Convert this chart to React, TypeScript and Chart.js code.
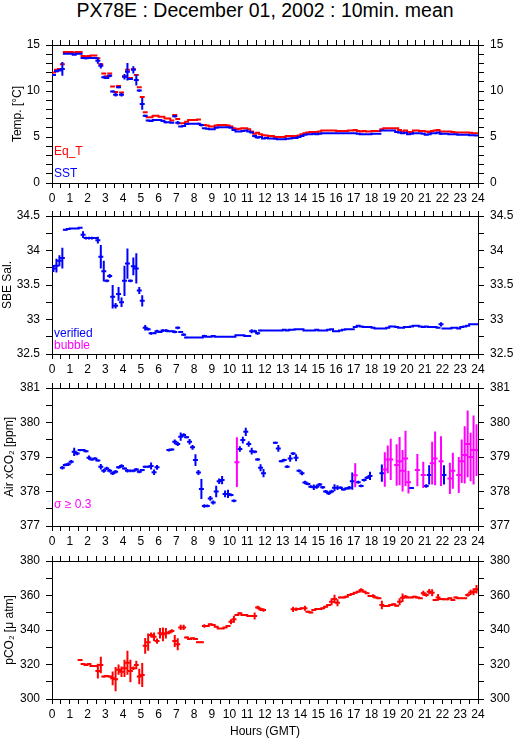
import React, { useEffect, useRef } from "react";
import { Chart, registerables } from "chart.js";

Chart.register(...registerables);

const FONT = "'Liberation Sans', Arial, Helvetica, sans-serif";
const RED = "#ff0000";
const BLUE = "#0000ff";
const MAGENTA = "#ff00ff";
const BLACK = "#000000";

const TITLE = "PX78E : December 01, 2002 : 10min. mean";
const X_TITLE = "Hours (GMT)";
const BIN_MINUTES = 10;
const HOUR_MIN = 0;
const HOUR_MAX = 24;
const HOUR_TICK_STEP = 0.5;
const SIGMA_FLAG = 0.3;

// ---------- Panel 1 : temperatures (10-min bins, one row per hour) ----------
const EQ_T = [
  12.0, 12.3, 12.4, 12.9, 14.25, 14.25,
  14.25, 14.15, 14.25, 14.25, 13.8, 13.75,
  13.8, 13.85, 13.85, 13.55, 12.9, 11.9,
  11.6, 11.9, 10.5, 9.9, 10.55, 9.85,
  11.6, 12.3, 11.4, 12.4, 11.75, 10.4,
  9.35, 7.7, 7.15, 7.15, 7.3, 7.3,
  7.2, 7.2, 7.0, 7.0, 6.8, 7.4,
  6.95, 6.5, 6.5, 6.65, 6.85, 6.85,
  6.85, 6.9, 6.3, 6.3, 6.25, 6.15,
  6.15, 6.25, 6.3, 6.3, 6.3, 6.25,
  6.15, 5.95, 5.85, 5.9, 5.95, 5.95,
  5.85, 5.6, 5.35, 5.45, 5.3, 5.2,
  5.15, 5.1, 5.1, 5.0, 5.0, 5.0,
  5.0, 5.1, 5.1, 5.1, 5.1, 5.15,
  5.3, 5.4, 5.5, 5.55, 5.55, 5.55,
  5.6, 5.7, 5.7, 5.7, 5.7, 5.7,
  5.65, 5.65, 5.65, 5.65, 5.7, 5.7,
  5.75, 5.65, 5.6, 5.65, 5.6, 5.6,
  5.65, 5.65, 5.65, 5.85, 5.95, 5.95,
  5.95, 5.95, 5.95, 5.75, 5.6, 5.7,
  5.55, 5.55, 5.7, 5.7, 5.65, 5.65,
  5.6, 5.55, 5.65, 5.7, 5.75, 5.6,
  5.6, 5.6, 5.6, 5.55, 5.5, 5.5,
  5.5, 5.5, 5.5, 5.45, 5.4, 5.4,
];
const EQ_T_SD = [
  0, 0, 0, 0.05, 0, 0,
  0, 0, 0, 0, 0, 0,
  0, 0, 0, 0.1, 0.1, 0,
  0, 0, 0, 0, 0, 0,
  0, 0, 0, 0, 0, 0,
  0, 0, 0, 0, 0, 0,
  0, 0, 0, 0, 0, 0,
  0, 0, 0, 0, 0, 0,
  0, 0, 0, 0, 0, 0,
  0, 0, 0, 0, 0, 0,
  0, 0, 0, 0, 0, 0,
  0, 0, 0, 0, 0, 0,
  0, 0, 0, 0, 0, 0,
  0, 0, 0, 0, 0, 0,
  0, 0, 0, 0, 0, 0,
  0, 0, 0, 0, 0, 0,
  0, 0, 0, 0, 0, 0,
  0, 0, 0, 0, 0, 0,
  0, 0, 0, 0, 0, 0,
  0, 0, 0, 0, 0, 0,
  0, 0, 0, 0, 0, 0,
  0, 0, 0, 0, 0, 0,
  0, 0, 0, 0, 0, 0,
  0, 0, 0, 0, 0, 0,
];
const SST = [
  11.75, 12.15, 12.25, 12.4, 14.05, 14.05,
  14.05, 13.95, 14.05, 14.05, 13.6, 13.55,
  13.6, 13.6, 13.6, 13.3, 12.75, 11.5,
  11.4, 11.65, 9.95, 9.6, 10.4, 9.6,
  11.55, 12.1, 11.3, 12.3, 11.2, 10.05,
  8.6, 7.3, 6.8, 6.75, 6.85, 6.85,
  6.85, 6.75, 6.6, 6.6, 6.55, 7.25,
  6.55, 6.15, 6.2, 6.4, 6.45, 6.45,
  6.45, 6.45, 6.3, 5.95, 5.9, 5.85,
  5.85, 6.0, 6.05, 6.05, 6.05, 6.05,
  6.0, 5.75, 5.6, 5.6, 5.65, 5.7,
  5.6, 5.5, 5.1, 4.95, 5.0, 4.85,
  4.9, 4.85, 4.85, 4.8, 4.75, 4.75,
  4.75, 4.8, 4.85, 4.9, 4.9, 5.0,
  5.1, 5.25, 5.3, 5.3, 5.35, 5.3,
  5.35, 5.4, 5.4, 5.4, 5.4, 5.4,
  5.4, 5.4, 5.4, 5.4, 5.4, 5.4,
  5.4, 5.35, 5.3, 5.3, 5.3, 5.3,
  5.35, 5.35, 5.35, 5.7, 5.7, 5.7,
  5.7, 5.7, 5.55, 5.5, 5.4, 5.45,
  5.3, 5.35, 5.4, 5.4, 5.4, 5.35,
  5.25, 5.3, 5.4, 5.4, 5.5, 5.35,
  5.35, 5.35, 5.3, 5.3, 5.3, 5.25,
  5.25, 5.25, 5.25, 5.2, 5.2, 5.15,
];
const SST_SD = [
  0.1, 0.12, 0.12, 0.75, 0, 0,
  0, 0, 0, 0.05, 0, 0.1,
  0, 0, 0, 0.35, 0.3, 0.15,
  0.1, 0.15, 0.1, 0.2, 0.1, 0.2,
  0.3, 0.95, 0.05, 0.4, 0.6, 0.12,
  0.65, 0.12, 0.08, 0, 0, 0.05,
  0, 0, 0.1, 0, 0, 0.12,
  0.2, 0, 0, 0, 0, 0,
  0, 0.1, 0.15, 0, 0, 0,
  0, 0, 0, 0, 0, 0,
  0, 0, 0, 0, 0, 0,
  0.05, 0, 0.15, 0.1, 0, 0,
  0, 0, 0, 0, 0, 0,
  0, 0, 0.05, 0, 0, 0,
  0, 0, 0, 0, 0, 0,
  0, 0, 0, 0, 0, 0,
  0, 0, 0, 0, 0, 0,
  0, 0, 0, 0, 0, 0,
  0, 0, 0, 0, 0, 0,
  0, 0, 0, 0.08, 0, 0,
  0, 0, 0, 0, 0, 0,
  0, 0, 0, 0, 0, 0.1,
  0, 0, 0, 0, 0, 0,
  0, 0, 0, 0, 0, 0,
];

// ---------- Panel 2 : SBE salinity ----------
const SAL = [
  33.74, 33.78, 33.85, 33.89, 34.3, 34.31,
  34.32, 34.32, 34.32, 34.33, 34.23, 34.18,
  34.18, 34.18, 34.18, 34.15, 33.91, 33.7,
  33.56, 33.63, 33.33, 33.2, 33.37, 33.25,
  33.56, 33.81, 33.56, 33.77, 33.74, 33.42,
  33.27, 32.88, 32.86, 32.8, 32.8, 32.83,
  32.82, 32.84, 32.84, 32.83, 32.83, 32.82,
  32.88, 32.82, 32.78, 32.74, 32.74, 32.74,
  32.74, 32.74, 32.74, 32.76, 32.75, 32.75,
  32.76, 32.75, 32.75, 32.75, 32.75, 32.75,
  32.75, 32.75, 32.77, 32.77, 32.77, 32.76,
  32.76, 32.83, 32.83, 32.8, 32.84, 32.84,
  32.84, 32.84, 32.84, 32.84, 32.84, 32.84,
  32.85, 32.84, 32.85, 32.85, 32.86, 32.86,
  32.86, 32.84, 32.84, 32.84, 32.84, 32.85,
  32.84, 32.84, 32.84, 32.85, 32.86, 32.83,
  32.83, 32.84, 32.85, 32.86, 32.86, 32.86,
  32.89, 32.91, 32.9, 32.89, 32.89, 32.89,
  32.88, 32.87, 32.87, 32.87, 32.87, 32.88,
  32.9, 32.9, 32.89, 32.88, 32.88, 32.89,
  32.89, 32.9, 32.91, 32.91, 32.9, 32.89,
  32.9, 32.89, 32.89, 32.89, 32.88, 32.93,
  32.87, 32.87, 32.87, 32.88, 32.88, 32.87,
  32.89, 32.9, 32.91, 32.93, 32.93, 32.93,
];
const SAL_SD = [
  0.05, 0.1, 0.08, 0.15, 0.01, 0.01,
  0, 0, 0, 0, 0.05, 0.02,
  0.02, 0.02, 0, 0.05, 0.17, 0.15,
  0.02, 0.03, 0.17, 0.04, 0.1, 0.07,
  0.22, 0.22, 0.02, 0.13, 0.22, 0.05,
  0.08, 0.04, 0.02, 0.02, 0.01, 0.02,
  0.01, 0.02, 0.02, 0.01, 0.01, 0.02,
  0.02, 0.01, 0.02, 0.01, 0, 0,
  0, 0, 0, 0.02, 0, 0,
  0, 0, 0, 0, 0, 0,
  0, 0, 0, 0, 0, 0,
  0, 0.03, 0.02, 0.02, 0.01, 0,
  0, 0, 0, 0, 0, 0,
  0, 0, 0.01, 0, 0, 0,
  0, 0, 0, 0, 0, 0,
  0, 0, 0, 0, 0, 0,
  0, 0, 0, 0, 0, 0,
  0.01, 0, 0, 0, 0, 0,
  0, 0, 0, 0, 0, 0,
  0.01, 0, 0, 0, 0, 0,
  0, 0.01, 0, 0, 0, 0,
  0, 0, 0, 0, 0, 0.03,
  0, 0, 0, 0, 0, 0,
  0, 0, 0, 0, 0, 0,
];

// ---------- Panel 3 : air xCO2 ----------
const XCO2 = [
  null, null, null, 378.69, 378.77, 378.79,
  378.86, 379.15, 379.1, 379.2, 379.2, 379.17,
  378.98, 378.93, 378.96, 378.9, 378.72, 378.6,
  378.67, 378.6, 378.53, 378.57, 378.7, 378.74,
  378.67, 378.6, 378.6, 378.6, 378.64, 378.57,
  378.62, 378.72, 378.72, 378.74, 378.56, 378.7,
  null, null, null, 379.2, 379.22, 379.44,
  379.38, 379.59, 379.64, 379.57, 379.44, 379.28,
  378.91, 378.55, 378.07, 377.58, 377.58, 377.8,
  377.68, 378.0, 378.3, 378.33, 377.93, 377.93,
  377.9, 377.73, 378.85, 379.23, 379.49, 379.73,
  379.38, 379.17, 379.15, 378.93, 378.69, 378.53,
  null, null, null, 379.41, 379.25, 378.88,
  378.91, 378.72, 378.96, 379.1, 378.98, 378.6,
  378.53, 378.26, 378.22, 378.14, 378.12, 378.14,
  378.2, 378.12, 378.0, 377.95, 378.0, 378.11,
  378.11, 378.11, 378.06, 378.09, 378.11, 378.3,
  378.47, 378.27, 378.16, 378.33, 378.4, 378.45,
  null, null, null, 378.53, 378.64, 378.93,
  378.93, null, 378.77, 378.88, 378.6, 378.96,
  378.27, 378.1, null, 378.62, null, 378.48,
  378.16, 378.48, 378.82, 378.96, null, 378.88,
  378.48, null, 378.38, 378.6, null, 378.48,
  378.88, 379.06, 379.38, 379.0, 379.2, 379.2,
];
const XCO2_SD = [
  0, 0, 0, 0.05, 0.04, 0.05,
  0.05, 0.12, 0.05, 0.03, 0.03, 0.03,
  0.06, 0.03, 0.03, 0.03, 0.08, 0.06,
  0.05, 0.05, 0.05, 0.05, 0.04, 0.05,
  0.03, 0.05, 0.04, 0.04, 0.04, 0.04,
  0.03, 0.03, 0.03, 0.1, 0.08, 0.07,
  0, 0, 0, 0.04, 0.03, 0.07,
  0.06, 0.12, 0.05, 0.03, 0.08, 0.07,
  0.17, 0.07, 0.29, 0.05, 0.04, 0.07,
  0.06, 0.17, 0.08, 0.12, 0.1, 0.12,
  0.04, 0.04, 0.72, 0.08, 0.1, 0.12,
  0.08, 0.1, 0.04, 0.04, 0.1, 0.12,
  0, 0, 0, 0.03, 0.1, 0.03,
  0.04, 0.04, 0.1, 0.04, 0.1, 0.04,
  0.06, 0.05, 0.04, 0.04, 0.08, 0.06,
  0.05, 0.04, 0.04, 0.05, 0.05, 0.1,
  0.07, 0.04, 0.03, 0.03, 0.05, 0.25,
  0.35, 0.04, 0.04, 0.04, 0.04, 0.12,
  0, 0, 0, 0.25, 0.5, 0.4,
  0.6, 0, 0.6, 0.7, 0.6, 0.8,
  0.33, 0.03, 0, 0.47, 0, 0.38,
  0.05, 0.28, 0.62, 0.78, 0, 0.72,
  0.28, 0, 0.45, 0.52, 0, 0.52,
  0.63, 0.83, 0.97, 0.7, 1.0, 0.75,
];

// ---------- Panel 4 : seawater pCO2 ----------
const PCO2 = [
  null, null, null, null, null, null,
  null, null, null, 322.6, 320.3, 319.7,
  320.3, 319.1, 319.1, 316.2, 319.7, 313.0,
  313.3, 313.0, 312.0, 311.5, 317.0, 315.8,
  317.8, 321.0, 316.2, 317.8, 319.7, 313.0,
  313.9, 330.8, 332.9, 337.1, 336.1, 333.6,
  338.1, 337.5, 338.1, 338.6, 339.4, 333.6,
  331.7, 341.5, 341.5, 335.7, 334.8, 335.2,
  334.8, 332.9, 332.9, 342.3, 342.3, 343.3,
  342.9, 341.9, 340.9, 340.9, 341.4, 342.3,
  344.8, 346.2, 348.7, 349.7, 348.7, 348.7,
  348.1, 348.1, 348.1, 353.0, 352.0, 351.6,
  null, null, null, null, null, null,
  null, null, null, 352.0, 352.0, 352.2,
  352.6, 352.6, 350.6, 350.2, 351.6, 352.2,
  352.2, 352.6, 353.5, 354.5, 356.4, 358.0,
  355.8, 358.9, 358.9, 359.3, 360.3, 360.9,
  361.6, 362.2, 363.2, 362.2, 361.3, 359.7,
  359.7, 358.9, 358.4, 354.5, 353.9, 353.9,
  354.5, 354.9, 354.1, 356.4, 358.7, 359.3,
  358.9, 358.9, 359.3, 358.9, 358.4, 361.3,
  360.3, 362.2, 361.6, 357.4, 358.9, 358.0,
  357.8, 357.8, 358.4, 357.4, 358.9, 358.4,
  358.4, 358.4, 360.3, 361.8, 362.2, 363.6,
];
const PCO2_SD = [
  0, 0, 0, 0, 0, 0,
  0, 0, 0, 0.5, 0.3, 0.3,
  0.3, 0.3, 0.3, 4.3, 4.8, 0.5,
  0.5, 0.5, 4, 7, 3, 3,
  5, 7, 6.5, 1, 2.5, 4.5,
  7, 4.5, 5, 1.5, 2.5, 1.5,
  3, 4, 3, 1, 1, 3.5,
  3.5, 1.5, 1.5, 0.5, 0.5, 0.5,
  0.5, 0.5, 0.5, 1, 0.5, 0.5,
  0.5, 0.3, 0.3, 0.3, 0.3, 0.5,
  1.5, 2, 0.5, 0.5, 0.5, 0.5,
  0.5, 0.5, 2, 1, 1, 1,
  0, 0, 0, 0, 0, 0,
  0, 0, 0, 1.5, 1, 0.5,
  0.5, 1.5, 0.5, 0.5, 0.5, 0.5,
  0.5, 0.5, 0.5, 0.5, 2, 2.5,
  2, 0.5, 0.5, 0.5, 0.5, 0.5,
  0.5, 0.5, 1, 0.5, 0.5, 0.5,
  1, 0.5, 0.5, 2.5, 0.5, 0.5,
  0.5, 0.5, 0.5, 2, 2.5, 1,
  0.5, 0.5, 0.5, 0.5, 0.5, 1.5,
  1, 1.5, 2, 0.5, 2, 0.5,
  0.5, 0.5, 0.5, 0.5, 0.5, 0.5,
  0.5, 0.5, 1, 1.5, 2, 2.5,
];

// ---------- layout ----------
const W = 515;
const PLOT_LEFT = 52;
const PLOT_RIGHT = 478;
const PLOT_H = 138;
const TOP_BAND = 14;

const binHour = (k: number) => ((k + 0.5) * BIN_MINUTES) / 60;

function crossSets(values: (number | null)[], sds: number[], color: string, keep: (k: number) => boolean) {
  const half = BIN_MINUTES / 120;
  const horiz: any[] = [];
  const vert: any[] = [];
  values.forEach((v, k) => {
    if (v === null || v === undefined || !keep(k)) return;
    const t = binHour(k);
    horiz.push({ x: t - half, y: v }, { x: t + half, y: v }, { x: t + half, y: null });
    const s = sds[k] || 0;
    if (s > 0) vert.push({ x: t, y: v - s }, { x: t, y: v + s }, { x: t, y: null });
  });
  const base = {
    type: "line",
    borderColor: color,
    backgroundColor: color,
    borderWidth: 2,
    pointRadius: 0,
    pointHoverRadius: 0,
    spanGaps: false,
    tension: 0,
    fill: false,
  };
  return [
    { ...base, borderCapStyle: "butt", data: vert },
    { ...base, borderCapStyle: "square", data: horiz },
  ];
}

const all = () => true;

const PANELS = [
  {
    top: 45, bottomBand: 26, yMin: 0, yMax: 15, yStep: 1, yLabelStep: 5,
    yTitle: "Temp. [°C]", yTitlePad: 10.3,
    datasets: () => [...crossSets(SST, SST_SD, BLUE, all), ...crossSets(EQ_T, EQ_T_SD, RED, all)],
    legend: [
      { text: "Eq_T", color: RED, up: 28 },
      { text: "SST", color: BLUE, up: 6 },
    ],
    xTitle: false,
  },
  {
    top: 216, bottomBand: 26, yMin: 32.5, yMax: 34.5, yStep: 0.25, yLabelStep: 0.5,
    yTitle: "SBE Sal.", yTitlePad: 0.3,
    datasets: () => [...crossSets(SAL, SAL_SD, BLUE, all)],
    legend: [
      { text: "verified", color: BLUE, up: 17 },
      { text: "bubble", color: MAGENTA, up: 5 },
    ],
    xTitle: false,
  },
  {
    top: 388, bottomBand: 26, yMin: 377, yMax: 381, yStep: 0.5, yLabelStep: 1,
    yTitle: "Air xCO₂ [ppm]", yTitlePad: 2,
    datasets: () => [
      ...crossSets(XCO2, XCO2_SD, MAGENTA, (k) => XCO2_SD[k] >= SIGMA_FLAG),
      ...crossSets(XCO2, XCO2_SD, BLUE, (k) => XCO2_SD[k] < SIGMA_FLAG),
    ],
    legend: [{ text: "σ ≥ 0.3", color: MAGENTA, up: 18 }],
    xTitle: false,
  },
  {
    top: 561, bottomBand: 40, yMin: 300, yMax: 380, yStep: 10, yLabelStep: 20,
    yTitle: "pCO₂ [μ atm]", yTitlePad: 2.8,
    datasets: () => [...crossSets(PCO2, PCO2_SD, RED, all)],
    legend: [],
    xTitle: true,
  },
];

const isMultiple = (v: number, step: number) => Math.abs(v / step - Math.round(v / step)) < 1e-6;

function Panel({ cfg }: { cfg: any }) {
  const ref = useRef<HTMLCanvasElement | null>(null);
  const height = TOP_BAND + PLOT_H + cfg.bottomBand;

  useEffect(() => {
    if (!ref.current) return;
    const tickFont = { family: FONT, size: 12 };

    const xAxis = (position: "top" | "bottom") => ({
      type: "linear",
      position,
      min: HOUR_MIN,
      max: HOUR_MAX,
      afterFit: (s: any) => {
        s.height = position === "top" ? TOP_BAND : cfg.bottomBand;
      },
      ticks: {
        display: position === "bottom",
        stepSize: HOUR_TICK_STEP,
        autoSkip: false,
        maxRotation: 0,
        minRotation: 0,
        color: BLACK,
        font: tickFont,
        padding: 3,
        callback: (v: number) => (Number.isInteger(v) ? String(v) : ""),
      },
      grid: { display: true, drawOnChartArea: false, drawTicks: true, tickLength: 5, color: BLACK, tickColor: BLACK, tickWidth: 1 },
      border: { display: true, color: BLACK, width: 1 },
      title:
        position === "bottom" && cfg.xTitle
          ? { display: true, text: X_TITLE, color: BLACK, font: { family: FONT, size: 12 }, padding: { top: 0, bottom: 0.3 } }
          : { display: false },
    });

    const yAxis = (position: "left" | "right") => ({
      type: "linear",
      position,
      min: cfg.yMin,
      max: cfg.yMax,
      afterFit: (s: any) => {
        s.width = position === "left" ? PLOT_LEFT : W - PLOT_RIGHT;
      },
      ticks: {
        stepSize: cfg.yStep,
        autoSkip: false,
        color: BLACK,
        font: tickFont,
        padding: 6,
        callback: (v: number) => (isMultiple(v, cfg.yLabelStep) ? String(v) : ""),
      },
      grid: { display: true, drawOnChartArea: false, drawTicks: true, tickLength: 6, color: BLACK, tickColor: BLACK, tickWidth: 1 },
      border: { display: true, color: BLACK, width: 1 },
      title:
        position === "left"
          ? { display: true, text: cfg.yTitle, color: BLACK, font: { family: FONT, size: 12 }, padding: { top: cfg.yTitlePad, bottom: 0 } }
          : { display: false },
    });

    const legendPlugin = {
      id: "inlineLegend",
      afterDatasetsDraw(chart: any) {
        const { ctx, chartArea } = chart;
        ctx.save();
        ctx.font = `12px ${FONT}`;
        ctx.textBaseline = "alphabetic";
        ctx.textAlign = "left";
        cfg.legend.forEach((it: any) => {
          ctx.fillStyle = it.color;
          ctx.fillText(it.text, chartArea.left + 2, chartArea.bottom - it.up);
        });
        ctx.restore();
      },
    };

    const chart = new Chart(ref.current, {
      type: "line",
      data: { datasets: cfg.datasets() },
      options: {
        responsive: false,
        maintainAspectRatio: false,
        animation: false,
        devicePixelRatio: 1,
        events: [],
        layout: { padding: 0 },
        plugins: { legend: { display: false }, tooltip: { enabled: false }, title: { display: false } },
        scales: {
          x: xAxis("bottom"),
          x2: xAxis("top"),
          y: yAxis("left"),
          y2: yAxis("right"),
        },
      } as any,
      plugins: [legendPlugin],
    } as any);
    return () => chart.destroy();
  }, []);

  return (
    <canvas
      ref={ref}
      width={W}
      height={height}
      style={{ position: "absolute", left: 0, top: cfg.top - TOP_BAND, width: W, height, display: "block" }}
    />
  );
}

export default function App() {
  return (
    <div style={{ position: "absolute", left: 0, top: 0, width: W, height: 739, background: "#fff", overflow: "hidden" }}>
      <div
        style={{
          position: "absolute",
          left: 0,
          top: 0,
          width: PLOT_LEFT + PLOT_RIGHT,
          textAlign: "center",
          font: `19.5px ${FONT}`,
          lineHeight: "20px",
          color: BLACK,
          whiteSpace: "nowrap",
        }}
      >
        {TITLE}
      </div>
      {PANELS.map((p, i) => (
        <Panel key={i} cfg={p} />
      ))}
    </div>
  );
}
